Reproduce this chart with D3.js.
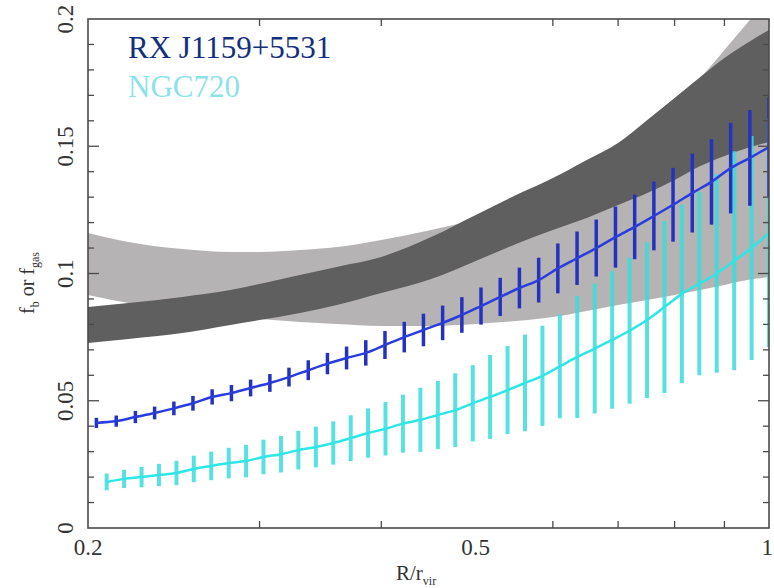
<!DOCTYPE html>
<html>
<head>
<meta charset="utf-8">
<script src="https://cdn.jsdelivr.net/npm/d3@7"></script>
<style>
  html, body { margin: 0; padding: 0; background: #fff; }
  svg { display: block; }
  svg text { font-family: "Liberation Serif", serif; }
</style>
</head>
<body>
<svg id="chart" width="774" height="588"></svg>
<script>
// RX J1159+5531 profile: radius (R/r_vir), fraction, 1-sigma half width
const blueR = [0.204,0.2138,0.2237,0.2341,0.2450,0.2563,0.2682,0.2807,0.2937,0.3074,0.3216,0.3366,0.3522,0.3685,0.3856,0.4035,0.4223,0.4419,0.4624,0.4839,0.5063,0.5298,0.5544,0.5802,0.6071,0.6353,0.6648,0.6957,0.7280,0.7618,0.7971,0.8341,0.8729,0.9134,0.9558,1.0];
const blueF = [0.0413,0.0420,0.0436,0.0452,0.0470,0.0490,0.0515,0.0530,0.0550,0.0570,0.0593,0.0620,0.0646,0.0668,0.0688,0.0719,0.0750,0.0778,0.0806,0.0837,0.0872,0.0908,0.0943,0.0974,0.1020,0.1060,0.1100,0.1143,0.1183,0.1226,0.1270,0.1316,0.1360,0.1414,0.1454,0.1497];
const blueErr = [0.0020,0.0022,0.0024,0.0025,0.0027,0.0029,0.0030,0.0032,0.0033,0.0035,0.0037,0.0039,0.0042,0.0045,0.0050,0.0055,0.0060,0.0064,0.0068,0.0070,0.0073,0.0075,0.0080,0.0088,0.0098,0.0105,0.0112,0.0120,0.0127,0.0135,0.0145,0.0155,0.0168,0.0178,0.0188,0.0195];

// NGC720 profile
const cyanR = [0.2090,0.2178,0.2270,0.2365,0.2465,0.2568,0.2676,0.2789,0.2906,0.3028,0.3156,0.3288,0.3427,0.3571,0.3721,0.3877,0.4040,0.4210,0.4387,0.4572,0.4764,0.4965,0.5173,0.5391,0.5618,0.5854,0.6100,0.6357,0.6624,0.6903,0.7193,0.7496,0.7811,0.8139,0.8482,0.8838,0.9210,0.9598,1.0];
const cyanF = [0.0181,0.0193,0.0200,0.0208,0.0216,0.0232,0.0244,0.0255,0.0263,0.0279,0.0290,0.0306,0.0318,0.0334,0.0353,0.0373,0.0390,0.0410,0.0425,0.0444,0.0463,0.0490,0.0515,0.0542,0.0570,0.0598,0.0635,0.0672,0.0705,0.0739,0.0775,0.0817,0.0868,0.0920,0.0960,0.1000,0.1050,0.1100,0.1160];
const cyanErr = [0.0033,0.0036,0.0040,0.0044,0.0048,0.0052,0.0056,0.0060,0.0064,0.0068,0.0072,0.0076,0.0080,0.0085,0.0090,0.0097,0.0105,0.0114,0.0126,0.0134,0.0145,0.0150,0.0165,0.0173,0.0190,0.0197,0.0204,0.0240,0.0255,0.0270,0.0287,0.0306,0.0338,0.0350,0.0360,0.0390,0.0430,0.0440,0.0450];

// Shaded model bands (light = wide band, dark = narrow band)
const bandR = [0.2,0.22,0.25,0.28,0.3,0.33,0.36,0.4,0.45,0.5,0.55,0.6,0.65,0.7,0.75,0.8,0.85,0.9,0.95,1.0];
const lightLo = [0.0916,0.0884,0.0849,0.0829,0.0821,0.0809,0.0802,0.0794,0.0794,0.0802,0.0813,0.0829,0.0853,0.0876,0.0896,0.0916,0.0935,0.0955,0.0974,0.0986];
const lightHi = [0.1159,0.1124,0.1096,0.1084,0.1084,0.1092,0.1104,0.1132,0.1171,0.1214,0.1273,0.1344,0.1407,0.1493,0.1583,0.1670,0.1768,0.1878,0.1984,0.2086];
const darkLo = [0.0727,0.0743,0.0766,0.0798,0.0817,0.0845,0.0876,0.0923,0.0978,0.1049,0.1116,0.1171,0.1218,0.1269,0.1316,0.1367,0.1422,0.1462,0.1493,0.1517];
const darkHi = [0.0868,0.0884,0.0908,0.0935,0.0959,0.0994,0.1026,0.1065,0.1143,0.1230,0.1308,0.1375,0.1446,0.1513,0.1603,0.1690,0.1772,0.1847,0.1906,0.1957];

// Axis ticks
const xMajor = [0.2, 0.5, 1];
const xMinor = [0.3, 0.4, 0.6, 0.7, 0.8, 0.9];
const yMajor = [0, 0.05, 0.1, 0.15, 0.2];
const yMinor = [0.01,0.02,0.03,0.04,0.06,0.07,0.08,0.09,0.11,0.12,0.13,0.14,0.16,0.17,0.18,0.19];

const W = 774, H = 588;
const m = { left: 88, right: 5, top: 19, bottom: 60 };
const iw = W - m.left - m.right, ih = H - m.top - m.bottom;
const SERIF = "Liberation Serif";

const svg = d3.select("#chart");
const g = svg.append("g").attr("transform", `translate(${m.left},${m.top})`);

const x = d3.scaleLog().domain([0.2, 1]).range([0, iw]);
const y = d3.scaleLinear().domain([0, 0.2]).range([ih, 0]);

g.append("defs").append("clipPath").attr("id", "plotClip")
  .append("rect").attr("width", iw).attr("height", ih);

const plot = g.append("g").attr("clip-path", "url(#plotClip)");

function band(lo, hi) {
  return d3.area()
    .x((d, i) => x(bandR[i]))
    .y0((d, i) => y(lo[i]))
    .y1((d, i) => y(hi[i]))
    .curve(d3.curveMonotoneX)(bandR);
}

plot.append("path").attr("d", band(lightLo, lightHi)).attr("fill", "#b5b3b3");
plot.append("path").attr("d", band(darkLo, darkHi)).attr("fill", "#5f5f5f");

function profile(rs, fs, errs, barColor, lineColor, barW, barOpacity) {
  const pts = rs.map((r, i) => ({ r, f: fs[i], e: errs[i] }));
  plot.append("g").selectAll("line").data(pts).join("line")
    .attr("x1", d => x(d.r)).attr("x2", d => x(d.r))
    .attr("y1", d => y(d.f - d.e)).attr("y2", d => y(d.f + d.e))
    .attr("stroke", barColor).attr("stroke-width", barW)
    .attr("stroke-opacity", barOpacity);
  plot.append("path")
    .attr("d", d3.line().x(d => x(d.r)).y(d => y(d.f)).curve(d3.curveMonotoneX)(pts))
    .attr("fill", "none").attr("stroke", lineColor).attr("stroke-width", 2.5);
}

profile(cyanR, cyanF, cyanErr, "#3cdcdc", "#2ee6e6", 4, 0.85);
profile(blueR, blueF, blueErr, "#2532bd", "#2a3ddc", 3.5, 1);

// Frame with inward ticks on all four sides
const frameColor = "#4a4a4a";
g.append("rect").attr("width", iw).attr("height", ih)
  .attr("fill", "none").attr("stroke", frameColor).attr("stroke-width", 1.6);

const ticks = g.append("g").attr("stroke", frameColor).attr("stroke-width", 1.3);
xMinor.forEach(v => {
  ticks.append("line").attr("x1", x(v)).attr("x2", x(v)).attr("y1", ih).attr("y2", ih - 7);
  ticks.append("line").attr("x1", x(v)).attr("x2", x(v)).attr("y1", 0).attr("y2", 7);
});
yMinor.forEach(v => {
  ticks.append("line").attr("x1", 0).attr("x2", 6).attr("y1", y(v)).attr("y2", y(v));
  ticks.append("line").attr("x1", iw).attr("x2", iw - 6).attr("y1", y(v)).attr("y2", y(v));
});
yMajor.slice(1, -1).forEach(v => {
  ticks.append("line").attr("x1", 0).attr("x2", 11).attr("y1", y(v)).attr("y2", y(v));
  ticks.append("line").attr("x1", iw).attr("x2", iw - 11).attr("y1", y(v)).attr("y2", y(v));
});

// Tick labels
const fmt = d => (d === 0 ? "0" : String(d));
g.append("g").selectAll("text").data(xMajor).join("text")
  .attr("x", d => x(d)).attr("y", ih + 27)
  .attr("text-anchor", (d, i) => i === xMajor.length - 1 ? "end" : "middle")
  .attr("dx", (d, i) => i === xMajor.length - 1 ? 4 : 0)
  .attr("font-size", 23).attr("fill", "#333").attr("font-family", SERIF)
  .text(fmt);
g.append("g").selectAll("text").data(yMajor).join("text")
  .attr("transform", d => `translate(${-15},${y(d)}) rotate(-90)`)
  .attr("text-anchor", "middle").attr("font-size", 23).attr("fill", "#333")
  .attr("font-family", SERIF)
  .text(fmt);

// Axis titles
const xt = svg.append("text").attr("x", 396).attr("y", 580)
  .attr("font-size", 21).attr("fill", "#333").attr("font-family", SERIF);
xt.append("tspan").text("R/r");
xt.append("tspan").attr("font-size", 12).attr("dy", 5).text("vir");

const yt = svg.append("text")
  .attr("transform", "translate(34,314) rotate(-90)")
  .attr("font-size", 20).attr("fill", "#333").attr("font-family", SERIF);
yt.append("tspan").text("f");
yt.append("tspan").attr("font-size", 12).attr("dy", 5).text("b");
yt.append("tspan").attr("dy", -5).text(" or f");
yt.append("tspan").attr("font-size", 12).attr("dy", 5).text("gas");

// Legend
svg.append("text").attr("x", 128).attr("y", 58).attr("font-family", SERIF)
  .attr("font-size", 31).attr("fill", "#12307c").text("RX J1159+5531");
svg.append("text").attr("x", 128).attr("y", 97).attr("font-family", SERIF)
  .attr("font-size", 31).attr("fill", "#8ce2ea").text("NGC720");
</script>
</body>
</html>
